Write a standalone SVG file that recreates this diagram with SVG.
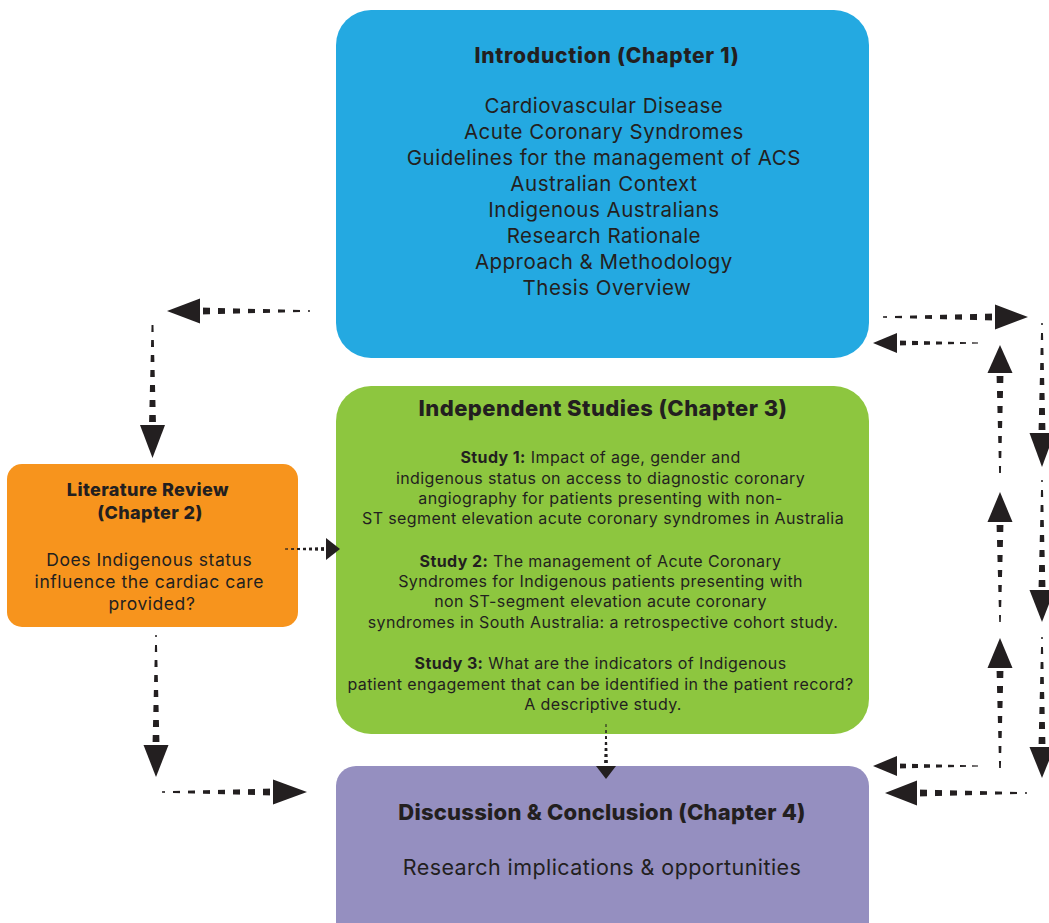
<svg xmlns="http://www.w3.org/2000/svg" width="1049" height="923" viewBox="0 0 1049 923">
  <style>
    .box-title { font-family: Inter, "Open Sans", sans-serif; font-weight: 800; fill: #231f20; text-anchor: middle; }
    .box-text { font-family: Inter, "Open Sans", sans-serif; font-weight: 400; fill: #231f20; text-anchor: middle; }
    .lead { font-weight: 700; }
    .stem { fill: #231f20; }
    .head { fill: #231f20; }
    .m-lg { stroke: #fff; stroke-width: 16; stroke-dasharray: 7 8; fill: none; }
    .m-sm { stroke: #fff; stroke-width: 14; stroke-dasharray: 6 6; fill: none; }
    .m-xs { stroke: #fff; stroke-width: 12; stroke-dasharray: 3 3; fill: none; }
  </style>
  <defs>
    <!-- dash pattern cut out of the tapered connector stems -->
    <mask id="dash-mask" maskUnits="userSpaceOnUse" x="0" y="0" width="1049" height="923">
      <line class="m-lg" x1="203" y1="311" x2="310" y2="311"/>
      <line class="m-lg" x1="152.5" y1="422" x2="152.5" y2="317"/>
      <line class="m-xs" x1="324" y1="549" x2="283" y2="549"/>
      <line class="m-xs" x1="606" y1="763" x2="606" y2="722"/>
      <line class="m-lg" x1="156" y1="742" x2="156" y2="635"/>
      <line class="m-lg" x1="270" y1="792" x2="162" y2="792"/>
      <line class="m-lg" x1="992" y1="317" x2="883" y2="317"/>
      <line class="m-sm" x1="900" y1="343" x2="980" y2="343"/>
      <line class="m-lg" x1="1000" y1="376" x2="1000" y2="478"/>
      <line class="m-lg" x1="1042" y1="430" x2="1042" y2="323"/>
      <line class="m-lg" x1="1000" y1="525" x2="1000" y2="623"/>
      <line class="m-lg" x1="1042" y1="587" x2="1042" y2="480"/>
      <line class="m-lg" x1="1000" y1="671" x2="1000" y2="772"/>
      <line class="m-lg" x1="1042" y1="744" x2="1042" y2="637"/>
      <line class="m-sm" x1="900" y1="766" x2="980" y2="766"/>
      <line class="m-lg" x1="920" y1="793" x2="1027" y2="793"/>
    </mask>
  </defs>

  <rect width="1049" height="923" fill="#ffffff"/>

  <!-- Chapter 1 -->
  <g id="introduction">
    <rect x="336" y="10" width="533" height="348" rx="35" fill="#24a9e1"/>
    <text class="box-title" x="607" y="63" font-size="21" letter-spacing="0.75">Introduction (Chapter 1)</text>
    <text class="box-text" font-size="20.5" letter-spacing="0.5">
      <tspan x="607" y="113">Cardiovascular Disease</tspan>
      <tspan x="607" y="139">Acute Coronary Syndromes</tspan>
      <tspan x="607" y="165">Guidelines for the management of ACS</tspan>
      <tspan x="607" y="191">Australian Context</tspan>
      <tspan x="607" y="217">Indigenous Australians</tspan>
      <tspan x="607" y="243">Research Rationale</tspan>
      <tspan x="607" y="269">Approach &amp; Methodology</tspan>
      <tspan x="607" y="295">Thesis Overview</tspan>
    </text>
  </g>

  <!-- Chapter 2 -->
  <g id="literature-review">
    <rect x="7" y="464" width="291" height="163" rx="15" fill="#f7941d"/>
    <text class="box-title" font-size="18" letter-spacing="0.4">
      <tspan x="150" y="496">Literature Review</tspan>
      <tspan x="150" y="519">(Chapter 2)</tspan>
    </text>
    <text class="box-text" font-size="17.5" letter-spacing="0.55">
      <tspan x="152" y="566">Does Indigenous status</tspan>
      <tspan x="152" y="588">influence the cardiac care</tspan>
      <tspan x="152" y="610">provided?</tspan>
    </text>
  </g>

  <!-- Chapter 3 -->
  <g id="independent-studies">
    <rect x="336" y="386" width="533" height="348" rx="35" fill="#8dc63f"/>
    <text class="box-title" x="603" y="416" font-size="22" letter-spacing="0.45">Independent Studies (Chapter 3)</text>
    <text class="box-text" font-size="16" letter-spacing="0.4">
      <tspan x="603" y="463"><tspan class="lead">Study 1:</tspan> Impact of age, gender and</tspan>
      <tspan x="603" y="484">indigenous status on access to diagnostic coronary</tspan>
      <tspan x="603" y="504">angiography for patients presenting with non-</tspan>
      <tspan x="603" y="524">ST segment elevation acute coronary syndromes in Australia</tspan>
    </text>
    <text class="box-text" font-size="16" letter-spacing="0.4">
      <tspan x="603" y="567"><tspan class="lead">Study 2:</tspan> The management of Acute Coronary</tspan>
      <tspan x="603" y="587">Syndromes for Indigenous patients presenting with</tspan>
      <tspan x="603" y="607">non ST-segment elevation acute coronary</tspan>
      <tspan x="603" y="628">syndromes in South Australia: a retrospective cohort study.</tspan>
    </text>
    <text class="box-text" font-size="16" letter-spacing="0.4">
      <tspan x="603" y="669"><tspan class="lead">Study 3:</tspan> What are the indicators of Indigenous</tspan>
      <tspan x="603" y="690">patient engagement that can be identified in the patient record?</tspan>
      <tspan x="603" y="710">A descriptive study.</tspan>
    </text>
  </g>

  <!-- Chapter 4 -->
  <g id="discussion-conclusion">
    <rect x="336" y="766" width="533" height="190" rx="20" fill="#958fc0"/>
    <text class="box-title" x="602" y="820" font-size="22" letter-spacing="0.25">Discussion &amp; Conclusion (Chapter 4)</text>
    <text class="box-text" x="602" y="875" font-size="21.5" letter-spacing="0.43">Research implications &amp; opportunities</text>
  </g>

  <!-- tapered dashed connectors -->
  <g id="connectors">
    <g id="c-intro-left">
      <path class="stem" mask="url(#dash-mask)" d="M310,310.25 L200,307.5 L200,314.5 L310,311.75 Z"/>
      <path class="head" d="M167,311 L200,298.5 L200,323.5 Z"/>
    </g>
    <g id="c-left-down-review">
      <path class="stem" mask="url(#dash-mask)" d="M151.75,317 L149,425 L156,425 L153.25,317 Z"/>
      <path class="head" d="M140,425 L165,425 L152.5,458 Z"/>
    </g>
    <g id="c-review-studies">
      <path class="stem" mask="url(#dash-mask)" d="M283,548.6 L327,547 L327,551 L283,549.4 Z"/>
      <path class="head" d="M340,549 L326,538 L326,560 Z"/>
    </g>
    <g id="c-studies-discussion">
      <path class="stem" mask="url(#dash-mask)" d="M605.6,722 L604,766 L608,766 L606.4,722 Z"/>
      <path class="head" d="M596,766 L616,766 L606,779 Z"/>
    </g>
    <g id="c-review-down">
      <path class="stem" mask="url(#dash-mask)" d="M155.25,635 L152.5,745 L159.5,745 L156.75,635 Z"/>
      <path class="head" d="M143.5,745 L168.5,745 L156,777 Z"/>
    </g>
    <g id="c-left-discussion">
      <path class="stem" mask="url(#dash-mask)" d="M162,791.25 L273,788.5 L273,795.5 L162,792.75 Z"/>
      <path class="head" d="M307,792 L273,779.5 L273,804.5 Z"/>
    </g>
    <g id="c-intro-right">
      <path class="stem" mask="url(#dash-mask)" d="M883,316.25 L995,313.5 L995,320.5 L883,317.75 Z"/>
      <path class="head" d="M1028,317 L995,304.5 L995,329.5 Z"/>
    </g>
    <g id="c-right-intro">
      <path class="stem" mask="url(#dash-mask)" d="M980,342.4 L897,340.5 L897,345.5 L980,343.6 Z"/>
      <path class="head" d="M873,343 L897,333 L897,353 Z"/>
    </g>
    <g id="c-up-1">
      <path class="stem" mask="url(#dash-mask)" d="M999.25,478 L996.5,373 L1003.5,373 L1000.75,478 Z"/>
      <path class="head" d="M1000,345 L987.5,373 L1012.5,373 Z"/>
    </g>
    <g id="c-down-1">
      <path class="stem" mask="url(#dash-mask)" d="M1041.25,323 L1038.5,433 L1045.5,433 L1042.75,323 Z"/>
      <path class="head" d="M1029.5,433 L1054.5,433 L1042,467 Z"/>
    </g>
    <g id="c-up-2">
      <path class="stem" mask="url(#dash-mask)" d="M999.25,623 L996.5,522 L1003.5,522 L1000.75,623 Z"/>
      <path class="head" d="M1000,492 L987.5,522 L1012.5,522 Z"/>
    </g>
    <g id="c-down-2">
      <path class="stem" mask="url(#dash-mask)" d="M1041.25,480 L1038.5,590 L1045.5,590 L1042.75,480 Z"/>
      <path class="head" d="M1029.5,590 L1054.5,590 L1042,622 Z"/>
    </g>
    <g id="c-up-3">
      <path class="stem" mask="url(#dash-mask)" d="M999.25,772 L996.5,668 L1003.5,668 L1000.75,772 Z"/>
      <path class="head" d="M1000,638 L987.5,668 L1012.5,668 Z"/>
    </g>
    <g id="c-down-3">
      <path class="stem" mask="url(#dash-mask)" d="M1041.25,637 L1038.5,747 L1045.5,747 L1042.75,637 Z"/>
      <path class="head" d="M1029.5,747 L1054.5,747 L1042,778 Z"/>
    </g>
    <g id="c-right-discussion-upper">
      <path class="stem" mask="url(#dash-mask)" d="M980,765.4 L897,763.5 L897,768.5 L980,766.6 Z"/>
      <path class="head" d="M873,766 L897,756 L897,776 Z"/>
    </g>
    <g id="c-right-discussion-lower">
      <path class="stem" mask="url(#dash-mask)" d="M1027,792.25 L917,789.5 L917,796.5 L1027,793.75 Z"/>
      <path class="head" d="M885,793 L917,780.5 L917,805.5 Z"/>
    </g>
  </g>
</svg>
